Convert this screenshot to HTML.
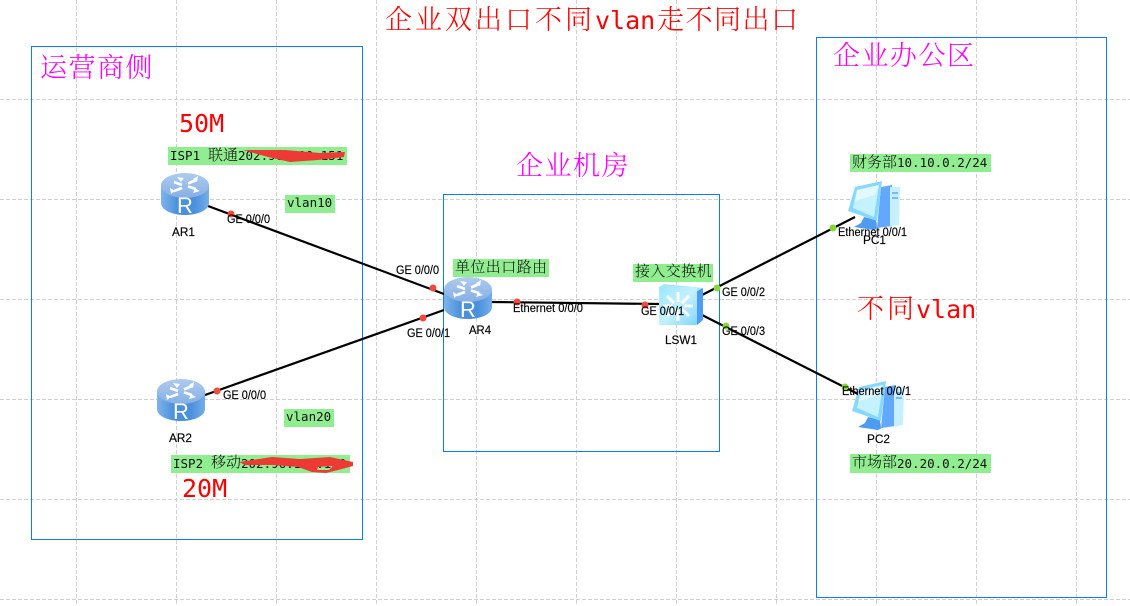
<!DOCTYPE html>
<html><head><meta charset="utf-8"><style>
html,body{margin:0;padding:0;background:#fff;width:1130px;height:606px;overflow:hidden}
svg{display:block}
.cjk{font-family:"Noto Serif CJK SC","Liberation Serif",serif;font-weight:300}
.m{font-family:"DejaVu Sans Mono","Liberation Mono",monospace;font-weight:400}
.i{font-family:"Liberation Sans",Arial,sans-serif;font-size:11.5px;fill:#000;stroke:#000;stroke-width:.15px}
.mag{fill:#ff00ff}.red{fill:#ff0000}
.lbl{fill:#111}
</style></head><body>
<svg width="1130" height="606" viewBox="0 0 1130 606" xmlns="http://www.w3.org/2000/svg">
<defs>
<linearGradient id="rb" x1="0" x2="1" y1="0" y2="0"><stop offset="0" stop-color="#80b4ea"/><stop offset=".35" stop-color="#4a90dc"/><stop offset=".7" stop-color="#4a90dc"/><stop offset="1" stop-color="#74aee8"/></linearGradient>
<linearGradient id="rt" x1="0" x2="0" y1="0" y2="1"><stop offset="0" stop-color="#aecbef"/><stop offset="1" stop-color="#86afe5"/></linearGradient>
<linearGradient id="sw" x1="0" x2="1" y1="0" y2="1"><stop offset="0" stop-color="#9be6ff"/><stop offset=".5" stop-color="#c4f1ff"/><stop offset="1" stop-color="#7fd6fb"/></linearGradient>
<g id="router">
<path d="M0 13V30C0 37 11 42 24 42S48 37 48 30V13Z" fill="url(#rb)"/>
<ellipse cx="24" cy="12.5" rx="24" ry="12.5" fill="url(#rt)"/>
<g stroke="#fff" stroke-width="2.6" fill="none"><path d="M13 9l8 3M35 7l-8 3.500M13 18l8-3M35 16l-8-2.500"/></g>
<path d="M16 4l7 1-3 4zM37 3l-1 6-4-3zM9 15l1 6 4-3zM39 18l-7 2 2-5z" fill="#fff"/>
<text x="24" y="40" text-anchor="middle" font-family="Liberation Sans,sans-serif" font-size="22" fill="#fff">R</text>
</g>
<g id="pc">
<path d="M33 6 44 4 44 45 29 47Z" fill="#62a8ff"/>
<path d="M42 6 52 6 51 44 42 46Z" fill="#c6f0ff"/>
<path d="M44 11h6v2h-6zM44 16h6v2h-6z" fill="#7ab9ff"/>
<path d="M16 36 28 39 29 47 32 46 26 49 6 46 13 42Z" fill="#4e9bf2"/>
<path d="M7 6 34 0 29 40 0 30Z" fill="#86d8ff"/>
<path d="M9 9 31 4 26 36 5 27Z" fill="#c5f2ff"/>
<path d="M9 9 31 4 27 14 7 20Z" fill="#e2f9ff"/>
</g>
</defs>

<g stroke="#d0d0d0" stroke-width="1" stroke-dasharray="4 2" fill="none">
<path d="M76.500 0V606M176.500 0V606M276.500 0V606M376.500 0V606M476.500 0V606M576.500 0V606M676.500 0V606M776.500 0V606M876.500 0V606M976.500 0V606M1076.500 0V606"/>
<path d="M0 99.500H1130M0 199.500H1130M0 299.500H1130M0 399.500H1130M0 499.500H1130M0 599.500H1130"/>
</g>

<g fill="none" stroke="#0a7ff0" stroke-width="1">
<rect x="31.500" y="46.500" width="331" height="493"/>
<rect x="443.500" y="194.500" width="276" height="257"/>
<rect x="816.500" y="37.500" width="290" height="560"/>
</g>

<!-- green label backgrounds -->
<g fill="#90ee90">
<rect x="168" y="147" width="179" height="18"/>
<rect x="285" y="195" width="50" height="18"/>
<rect x="284" y="409" width="50" height="18"/>
<rect x="171" y="455" width="179" height="18"/>
<rect x="453" y="259" width="96" height="18"/>
<rect x="633" y="264" width="80" height="18"/>
<rect x="850" y="154" width="141" height="18"/>
<rect x="850" y="454" width="141" height="19"/>
</g>

<!-- links -->
<g stroke="#000" stroke-width="2.200" fill="none">
<path d="M208 206 444 294"/>
<path d="M205 395 444 310"/>
<path d="M492 302 660 304"/>
<path d="M702 295 855 217"/>
<path d="M702 315 860 395"/>
</g>

<use href="#router" x="161" y="173"/>
<use href="#router" x="157" y="379"/>
<use href="#router" x="444" y="277"/>

<!-- switch -->
<path d="M697 291 703 288V320L697 325Z" fill="#4d9cf5"/>
<path d="M664 284 703 288 697 291 659 287Z" fill="#a8e8ff"/>
<rect x="659" y="287" width="38" height="38" fill="url(#sw)"/>
<g stroke="#fff" stroke-width="2.800" fill="none"><path d="M678 292V302M678 310V321M663 306H672M684 306H693M667 296 674 303M689 296 682 303M667 316 674 309M689 316 682 309"/></g>

<use href="#pc" x="848" y="181"/>
<use href="#pc" x="852" y="381"/>

<!-- port dots -->
<g fill="#f44a3c">
<circle cx="231" cy="214" r="3.500"/><circle cx="217" cy="391" r="3.500"/><circle cx="433" cy="288" r="3.500"/><circle cx="423" cy="318" r="3.500"/><circle cx="517" cy="302" r="3.500"/><circle cx="645" cy="305" r="3.500"/>
</g>
<g fill="#86d83a">
<circle cx="717" cy="288" r="3.500"/><circle cx="726" cy="326" r="3.500"/><circle cx="833" cy="228" r="3.500"/><circle cx="845" cy="387" r="3.500"/>
</g>

<!-- interface labels -->
<text class="i" x="227" y="223" textLength="43" lengthAdjust="spacingAndGlyphs">GE 0/0/0</text>
<text class="i" x="223" y="399" textLength="43" lengthAdjust="spacingAndGlyphs">GE 0/0/0</text>
<text class="i" x="396" y="274" textLength="43" lengthAdjust="spacingAndGlyphs">GE 0/0/0</text>
<text class="i" x="407" y="337" textLength="43" lengthAdjust="spacingAndGlyphs">GE 0/0/1</text>
<text class="i" x="513" y="312" textLength="70" lengthAdjust="spacingAndGlyphs">Ethernet 0/0/0</text>
<text class="i" x="641" y="315" textLength="43" lengthAdjust="spacingAndGlyphs">GE 0/0/1</text>
<text class="i" x="722" y="296" textLength="43" lengthAdjust="spacingAndGlyphs">GE 0/0/2</text>
<text class="i" x="722" y="335" textLength="43" lengthAdjust="spacingAndGlyphs">GE 0/0/3</text>
<text class="i" x="838" y="236" textLength="69" lengthAdjust="spacingAndGlyphs">Ethernet 0/0/1</text>
<text class="i" x="842" y="395" textLength="69" lengthAdjust="spacingAndGlyphs">Ethernet 0/0/1</text>
<text class="i" x="172" y="236" textLength="23" lengthAdjust="spacingAndGlyphs">AR1</text>
<text class="i" x="169" y="442" textLength="23" lengthAdjust="spacingAndGlyphs">AR2</text>
<text class="i" x="469" y="334" textLength="22" lengthAdjust="spacingAndGlyphs">AR4</text>
<text class="i" x="665" y="344" textLength="32" lengthAdjust="spacingAndGlyphs">LSW1</text>
<text class="i" x="863" y="244" textLength="23" lengthAdjust="spacingAndGlyphs">PC1</text>
<text class="i" x="867" y="443" textLength="23" lengthAdjust="spacingAndGlyphs">PC2</text>

<!-- title -->
<text class="cjk red" font-size="27" letter-spacing="3" x="385" y="29">企业双出口不同</text>
<text class="m red" font-size="25" x="595" y="29">vlan</text>
<text class="cjk red" font-size="27" letter-spacing="1.500" x="657" y="29">走不同出口</text>

<text class="cjk mag" font-size="27" letter-spacing="1.500" x="40" y="77">运营商侧</text>
<text class="cjk mag" font-size="27" letter-spacing="1.500" x="516" y="175">企业机房</text>
<text class="cjk mag" font-size="27" letter-spacing="1.500" x="833" y="65">企业办公区</text>

<text class="cjk red" font-size="27" letter-spacing="3" x="857" y="318">不同</text>
<text class="m red" font-size="25" x="916" y="318">vlan</text>

<text class="m red" font-size="25" x="179" y="132">50M</text>
<text class="m red" font-size="25" x="182" y="497">20M</text>

<!-- green label text -->
<text class="m lbl" font-size="12.500" x="170" y="160">ISP1</text>
<text class="cjk lbl" font-size="15" x="208" y="160">联通</text>
<text class="m lbl" font-size="12.500" x="238" y="160">202.96.100.151</text>
<text class="m lbl" font-size="12.500" x="287" y="207">vlan10</text>
<text class="m lbl" font-size="12.500" x="286" y="421">vlan20</text>
<text class="m lbl" font-size="12.500" x="173" y="468">ISP2</text>
<text class="cjk lbl" font-size="15" x="211" y="467">移动</text>
<text class="m lbl" font-size="12.500" x="241" y="468">202.96.100.150</text>
<text class="cjk lbl" font-size="15" letter-spacing=".4" x="455" y="272">单位出口路由</text>
<text class="cjk lbl" font-size="15" letter-spacing=".4" x="635" y="276">接入交换机</text>
<text class="cjk lbl" font-size="15" x="852" y="167">财务部</text>
<text class="m lbl" font-size="12.500" x="897" y="167">10.10.0.2/24</text>
<text class="cjk lbl" font-size="15" x="852" y="467">市场部</text>
<text class="m lbl" font-size="12.500" x="897" y="468">20.20.0.2/24</text>

<!-- red scribbles over the redacted addresses -->
<path d="M243 150 285 150 320 153 345 152 344 157 318 160 290 162 268 157Z" fill="#ee3a34"/>
<path fill-rule="evenodd" d="M239 462 272 457 300 459 330 457 353 462 353 466 338 470 326 473 312 472 298 467 272 465 245 465ZM318 467 333 466 329 470 317 470Z" fill="#ee3a34"/>
</svg>
</body></html>
